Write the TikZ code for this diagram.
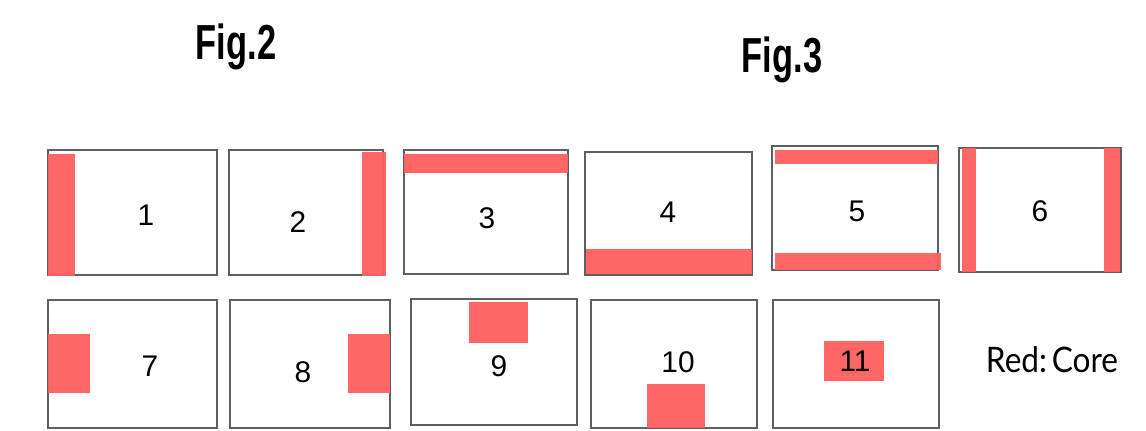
\documentclass[tikz,border=0pt]{standalone}
\usepackage{fontspec}
\setmainfont{Liberation Sans}
\newfontfamily\legendfont{Lato}
\usetikzlibrary{positioning}
\definecolor{CoreRed}{HTML}{FF5F5F}
\definecolor{EdgeGray}{HTML}{5F5F5F}

\begin{document}
\begin{tikzpicture}[x=0.02cm,y=-0.02cm,
cell/.style={draw=EdgeGray,line width=1.4pt},
core/.style={fill=CoreRed,fill opacity=0.95},
num/.style={font=\fontsize{17}{17}\selectfont},
fig/.style={font=\bfseries\fontsize{28}{28}\selectfont}]
\useasboundingbox (0,0) rectangle (1146,431);
% titles
\node[fig] (fig2) at (236,47) {\scalebox{0.7}[1]{Fig.2}};
\node[fig] (fig3) at (782,60) {\scalebox{0.7}[1]{Fig.3}};
% top row: cells with core strips
\draw[cell] (48,150) rectangle (217,275);
\fill[core] (48,154) rectangle (75,276);
\node[num] (n1) at (146,215) {1};
\draw[cell] (229,150) rectangle (383,275);
\fill[core] (362,152) rectangle (386,276);
\node[num] (n2) at (298,222) {2};
\draw[cell] (404,150) rectangle (568,274);
\fill[core] (404,154) rectangle (568,173);
\node[num] (n3) at (487,218) {3};
\draw[cell] (585,152) rectangle (752,275);
\fill[core] (586,249) rectangle (752,274);
\node[num] (n4) at (668,212) {4};
\draw[cell] (772,146) rectangle (938,270);
\fill[core] (775,150) rectangle (938,164);
\fill[core] (775,253) rectangle (941,270);
\node[num] (n5) at (857,211) {5};
\draw[cell] (959,148) rectangle (1121,272);
\fill[core] (962,148) rectangle (976,272);
\fill[core] (1104,148) rectangle (1120,272);
\node[num] (n6) at (1040,211) {6};
% bottom row: cells with core blocks
\draw[cell] (48,300) rectangle (217,428);
\fill[core] (48,334) rectangle (90,393);
\node[num] (n7) at (150,366) {7};
\draw[cell] (230,300) rectangle (390,428);
\fill[core] (348,334) rectangle (390,393);
\node[num] (n8) at (303,372) {8};
\draw[cell] (411,299) rectangle (577,425);
\fill[core] (469,302) rectangle (528,343);
\node[num] (n9) at (499,366) {9};
\draw[cell] (591,300) rectangle (757,428);
\fill[core] (647,384) rectangle (705,428);
\node[num] (n10) at (678,362) {10};
\draw[cell] (773,300) rectangle (939,428);
\fill[core] (824,341) rectangle (884,381);
\node[num] (n11) at (855,361) {11};
% legend
\node[font=\legendfont\fontsize{20}{20}\selectfont] (legend) at (1052,360) {\scalebox{0.9}[1]{Red:\hspace{0.15em}Core}};
\end{tikzpicture}
\end{document}
